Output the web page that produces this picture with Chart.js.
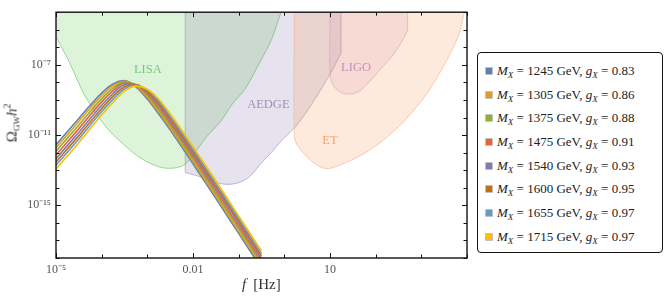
<!DOCTYPE html>
<html>
<head>
<meta charset="utf-8">
<script src="https://cdn.jsdelivr.net/npm/chart.js@4.4.1/dist/chart.umd.min.js"></script>
<style>
  body { margin: 0; background: #fff; font-family: "Liberation Serif", serif; }
  #wrap { position: relative; width: 664px; height: 307px; }
  #plot { position: absolute; left: 0; top: 0; width: 472px; height: 307px; }
  #ytitle { position: absolute; left: 12px; top: 123px; transform: translate(-50%, -50%) rotate(-90deg);
            font-size: 15px; white-space: nowrap; color: #333; }
  #xtitle { position: absolute; left: 242px; top: 276px; font-size: 15px; white-space: nowrap; color: #333; }
  #legend { position: absolute; left: 477px; top: 52px; width: 186px; height: 201px; box-sizing: border-box;
            border: 1.3px solid #111; border-radius: 4px; padding-top: 6px; }
  .row { position: relative; height: 23.7px; line-height: 23.7px; font-size: 13px; padding-left: 19px;
         white-space: nowrap; color: #222; }
  .sw { position: absolute; left: 8px; top: 9px; width: 6px; height: 6px; box-shadow: 0 0 0 0.7px rgba(0,0,0,0.35); }
  sub { font-size: 9px; vertical-align: baseline; position: relative; top: 3px; }
  sup { font-size: 10px; vertical-align: baseline; position: relative; top: -6px; }
</style>
</head>
<body>
<div id="wrap">
  <div id="plot"><canvas id="gw"></canvas></div>
  <div id="ytitle">&Omega;<sub>GW</sub><i>h</i><sup>2</sup></div>
  <div id="xtitle"><i>f</i><span style="margin-left:7px">[Hz]</span></div>
  <div id="legend"></div>
</div>
<script>
// frequencies (log10 Hz) shared by all spectra
const logF = [-5, -4.5, -4, -3.75, -3.5, -3.25, -3, -2.75, -2.5, -2, -1.5, -1, -0.5];

// log10 of Omega_GW h^2 for each benchmark
const omega1245 = [-11.55, -10.05, -8.60, -8.08, -7.90, -8.25, -8.95, -9.80, -10.70, -12.63, -14.60, -16.60, -18.60];
const omega1305 = [-11.72, -10.22, -8.74, -8.18, -7.93, -8.20, -8.86, -9.69, -10.59, -12.51, -14.48, -16.48, -18.48];
const omega1375 = [-11.92, -10.42, -8.92, -8.32, -7.98, -8.15, -8.75, -9.55, -10.45, -12.37, -14.33, -16.33, -18.33];
const omega1475 = [-12.13, -10.63, -9.11, -8.47, -8.05, -8.13, -8.65, -9.42, -10.31, -12.22, -14.18, -16.18, -18.18];
const omega1540 = [-12.34, -10.84, -9.30, -8.63, -8.14, -8.12, -8.56, -9.29, -10.18, -12.08, -14.03, -16.03, -18.03];
const omega1600 = [-12.53, -11.03, -9.48, -8.78, -8.25, -8.13, -8.50, -9.18, -10.05, -11.94, -13.89, -15.89, -17.89];
const omega1655 = [-12.72, -11.22, -9.66, -8.95, -8.36, -8.16, -8.44, -9.07, -9.92, -11.81, -13.75, -15.75, -17.75];
const omega1715 = [-12.93, -11.43, -9.86, -9.13, -8.50, -8.21, -8.39, -8.96, -9.78, -11.66, -13.60, -15.60, -17.60];

const masses = [1245, 1305, 1375, 1475, 1540, 1600, 1655, 1715];
const couplings = [0.83, 0.86, 0.88, 0.91, 0.93, 0.95, 0.97, 0.97];
const spectra = [omega1245, omega1305, omega1375, omega1475, omega1540, omega1600, omega1655, omega1715];
const colors = ['#5E81B5', '#E19C24', '#8FB032', '#EB6235', '#8778B3', '#C56E1A', '#5D9EC7', '#FFBF00'];

// detector sensitivity boundaries (log10 f, log10 Omega), region lies above the curve
// (a repeated point marks a sharp corner)
const lisaF   = [-5, -4.70, -4.41, -4.11, -3.83, -3.54, -3.24, -2.96, -2.67, -2.37, -2.15, -1.70, -1.39, -1.15, -0.85, -0.50, -0.28, -0.09, 0.0];
const lisaO   = [-5.40, -6.89, -8.55, -9.82, -10.76, -11.48, -12.14, -12.58, -12.86, -12.86, -12.62, -11.09, -10.20, -9.27, -8.33, -6.67, -5.56, -4.13, -3.5];
const aedgeF  = [-2.17, -2.17, -2.17, -1.87, -1.59, -1.30, -1.04, -0.78, -0.52, -0.30, -0.02, 0.24, 0.59, 1.02, 1.24, 1.24, 1.24];
const aedgeO  = [-4.0, -13.13, -13.13, -13.35, -13.63, -13.80, -13.74, -13.41, -12.64, -12.03, -11.20, -10.54, -9.27, -7.44, -6.34, -6.34, -4.0];
const etF     = [0.22, 0.22, 0.22, 0.30, 0.52, 0.74, 0.96, 1.33, 1.76, 2.26, 2.76, 3.20, 3.57, 3.83, 3.93, 4.02];
const etO     = [-4.0, -4.0, -11.09, -11.64, -12.30, -12.75, -12.91, -12.58, -12.03, -11.09, -9.82, -8.33, -6.67, -5.23, -4.13, -3.6];
const ligoF   = [1.0, 1.0, 1.0, 1.07, 1.22, 1.39, 1.61, 1.83, 2.11, 2.41, 2.63, 2.70, 2.70, 2.70];
const ligoO   = [-4.0, -4.0, -7.61, -8.16, -8.55, -8.66, -8.55, -8.05, -7.22, -6.34, -5.40, -5.01, -5.01, -4.0];

const regionNames = ['LISA', 'AEDGE', 'LIGO', 'ET'];
const regionLabelF = [-2.99, -0.35, 1.57, 1.0];
const regionLabelO = [-7.25, -9.29, -7.19, -11.31];

// axes
const xDecades = [1e-5, 1e-4, 1e-3, 1e-2, 1e-1, 1, 10, 100, 1e3, 1e4];
const yDecades = [1e-18, 1e-17, 1e-16, 1e-15, 1e-14, 1e-13, 1e-12, 1e-11, 1e-10, 1e-9, 1e-8, 1e-7, 1e-6, 1e-5, 1e-4];
const xTickValues = [1e-5, 0.01, 10];
const xTickText = ['10\u207B\u2075', '0.01', '10'];
const yTickValues = [1e-15, 1e-11, 1e-7];
const yTickText = ['10\u207B\u00B9\u2075', '10\u207B\u00B9\u00B9', '10\u207B\u2077'];

function tickIndex(v, list) {
  return list.findIndex(t => Math.abs(Math.log10(v) - Math.log10(t)) < 1e-6);
}
function pts(fs, os) {
  return fs.map((f, i) => ({ x: Math.pow(10, f), y: Math.pow(10, os[i]) }));
}

const regionStyles = [
  { f: lisaF,  o: lisaO,  fill: 'rgba(120,210,110,0.25)', line: 'rgba(110,200,100,0.85)', text: '#78c878' },
  { f: aedgeF, o: aedgeO, fill: 'rgba(130,110,170,0.20)', line: 'rgba(150,140,185,0.75)', text: '#9a93b5' },
  { f: ligoF,  o: ligoO,  fill: 'rgba(190,110,170,0.14)', line: 'rgba(205,160,190,0.75)', text: '#c58fbf' },
  { f: etF,    o: etO,    fill: 'rgba(250,160,100,0.22)', line: 'rgba(245,175,135,0.8)',  text: '#f4a56e' }
];

const datasets = [];
spectra.forEach((s, k) => {
  datasets.push({
    label: 'M_X = ' + masses[k] + ' GeV',
    data: pts(logF, s),
    borderColor: colors[k],
    borderWidth: 1.6,
    pointRadius: 0,
    fill: false,
    cubicInterpolationMode: 'monotone',
    order: 7 - k
  });
});
regionStyles.forEach((r, i) => {
  datasets.push({
    label: regionNames[i],
    data: pts(r.f, r.o),
    borderColor: r.line,
    backgroundColor: r.fill,
    borderWidth: 0.8,
    pointRadius: 0,
    fill: 'end',
    tension: 0.3,
    order: 20 + (3 - i)
  });
});

const framePlugin = {
  id: 'frame',
  afterDatasetsDraw(chart) {
    const { ctx, chartArea: a, scales: { x, y } } = chart;
    ctx.save();
    // region names
    ctx.font = '12.5px "Liberation Serif", serif';
    ctx.textAlign = 'center';
    ctx.textBaseline = 'middle';
    regionNames.forEach((n, i) => {
      ctx.fillStyle = regionStyles[i].text;
      ctx.fillText(n, x.getPixelForValue(Math.pow(10, regionLabelF[i])), y.getPixelForValue(Math.pow(10, regionLabelO[i])));
    });
    // frame
    ctx.strokeStyle = '#111';
    ctx.lineWidth = 1.4;
    ctx.strokeRect(a.left, a.top, a.right - a.left, a.bottom - a.top);
    // inward ticks
    ctx.lineWidth = 1;
    ctx.beginPath();
    xDecades.forEach(v => {
      const px = Math.round(x.getPixelForValue(v)) + 0.5;
      const len = tickIndex(v, xTickValues) >= 0 ? 5 : 3.5;
      ctx.moveTo(px, a.bottom); ctx.lineTo(px, a.bottom - len);
      ctx.moveTo(px, a.top); ctx.lineTo(px, a.top + len);
    });
    yDecades.forEach(v => {
      const py = Math.round(y.getPixelForValue(v)) + 0.5;
      const len = tickIndex(v, yTickValues) >= 0 ? 5 : 3.5;
      ctx.moveTo(a.left, py); ctx.lineTo(a.left + len, py);
      ctx.moveTo(a.right, py); ctx.lineTo(a.right - len, py);
    });
    ctx.stroke();
    ctx.restore();
  }
};

const tickFont = { family: '"Liberation Serif", serif', size: 12 };

new Chart(document.getElementById('gw'), {
  type: 'line',
  data: { datasets: datasets },
  options: {
    responsive: true,
    maintainAspectRatio: false,
    animation: false,
    layout: { padding: { top: 5, right: 3, left: 0, bottom: 0 } },
    plugins: { legend: { display: false }, tooltip: { enabled: false } },
    scales: {
      x: {
        type: 'logarithmic', min: 1e-5, max: 1e4,
        grid: { display: false, drawTicks: false },
        border: { display: false },
        ticks: {
          autoSkip: false, maxRotation: 0, padding: 5, color: '#555', font: tickFont,
          callback: v => { const i = tickIndex(v, xTickValues); return i >= 0 ? xTickText[i] : ''; }
        },
        afterBuildTicks: s => { s.ticks = xDecades.map(v => ({ value: v })); },
        afterFit: s => { s.height = 49; }
      },
      y: {
        type: 'logarithmic', min: 1e-18, max: 1e-4,
        grid: { display: false, drawTicks: false },
        border: { display: false },
        ticks: {
          autoSkip: false, padding: 5, color: '#555', font: tickFont,
          callback: v => { const i = tickIndex(v, yTickValues); return i >= 0 ? yTickText[i] : ''; }
        },
        afterBuildTicks: s => { s.ticks = yDecades.map(v => ({ value: v })); },
        afterFit: s => { s.width = 56; }
      }
    }
  },
  plugins: [framePlugin]
});

// legend
const legend = document.getElementById('legend');
masses.forEach((m, k) => {
  const row = document.createElement('div');
  row.className = 'row';
  row.innerHTML = '<span class="sw" style="background:' + colors[k] + '"></span>' +
    '<i>M</i><sub><i>X</i></sub> = ' + m + ' GeV, <i>g</i><sub><i>X</i></sub> = ' + couplings[k].toFixed(2);
  legend.appendChild(row);
});
</script>
</body>
</html>
